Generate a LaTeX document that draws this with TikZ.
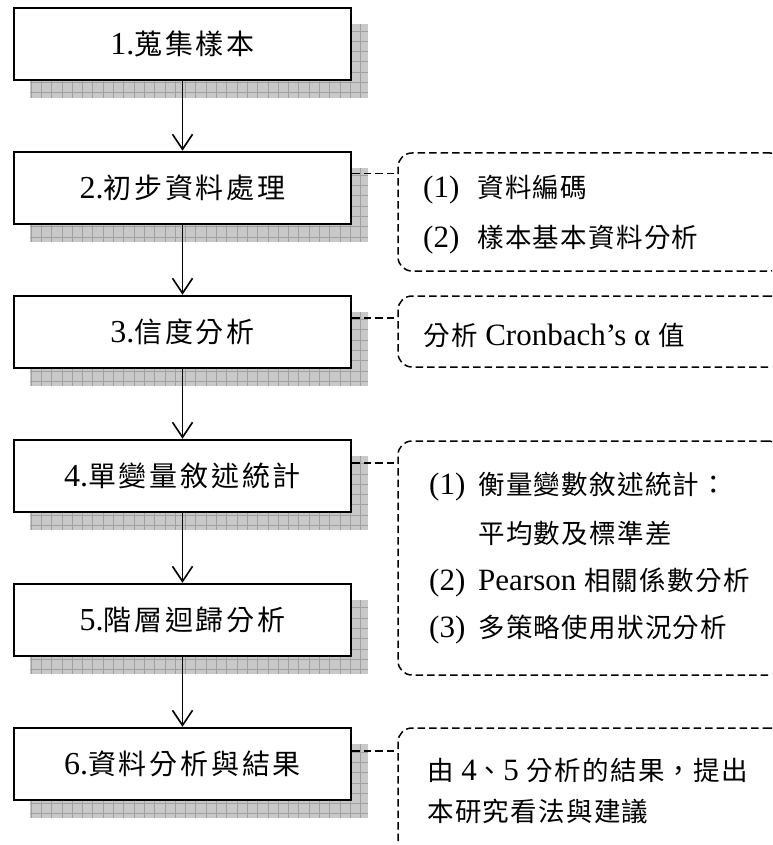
\documentclass[tikz,border=0pt]{standalone}
\usepackage{fontspec}
\setmainfont{Liberation Serif}
\newfontfamily\cjkA[LetterSpace=10]{Noto Sans CJK TC}
\newfontfamily\cjkB[LetterSpace=5]{Noto Sans CJK TC}
\usetikzlibrary{arrows.meta,calc}
\newcommand\LA{\fontsize{32}{36}\selectfont}
\newcommand\CA[1]{{\cjkA\fontsize{28}{36}\selectfont #1}}
\newcommand\LB{\fontsize{31}{34}\selectfont}
\newcommand\CB[1]{{\cjkB\fontsize{26.5}{34}\selectfont #1}}
\definecolor{shfill}{HTML}{C8C8C8}
\definecolor{shline}{HTML}{A0A0A0}
\newcommand\shadowfor[2]{%
  \begin{scope}
    \clip (#1,#2) rectangle ++(338,74);
    \fill[shfill] (#1,#2) rectangle ++(338,74);
    \draw[shline,line width=0.6pt,step=10.3pt] (#1,#2) grid ++(338,74);
  \end{scope}}
\begin{document}
\begin{tikzpicture}[x=1pt,y=-1pt,
  stepbox/.style={draw,line width=2.5pt,fill=white,minimum width=337pt,minimum height=72pt,inner sep=0pt},
  dbox/.style={draw,dashed,dash pattern=on 7.5pt off 4pt,line width=1.5pt,rounded corners=14pt,inner sep=0pt},
  conn/.style={dashed,dash pattern=on 7.5pt off 4pt,line width=1.5pt},
  arr/.style={line width=1.6pt,-{Straight Barb[length=15pt,width=20pt]}},
  txt/.style={anchor=west,inner sep=0pt}]
\clip (0,0) rectangle (772,845);
\fill[white] (0,0) rectangle (772,845);
% shadows
\shadowfor{30}{24}
\shadowfor{30}{168}
\shadowfor{30}{312}
\shadowfor{30}{456}
\shadowfor{30}{600}
\shadowfor{30}{744}
% main boxes
\node[stepbox] (b1) at (182.5,44) {\LA 1.\CA{蒐集樣本}};
\node[stepbox] (b2) at (182.5,188) {\LA 2.\CA{初步資料處理}};
\node[stepbox] (b3) at (182.5,332) {\LA 3.\CA{信度分析}};
\node[stepbox] (b4) at (182.5,476) {\LA 4.\CA{單變量敘述統計}};
\node[stepbox] (b5) at (182.5,620) {\LA 5.\CA{階層迴歸分析}};
\node[stepbox] (b6) at (182.5,764) {\LA 6.\CA{資料分析與結果}};
% arrows
\draw[arr] (b1) -- (b2);
\draw[arr] (b2) -- (b3);
\draw[arr] (b3) -- (b4);
\draw[arr] (b4) -- (b5);
\draw[arr] (b5) -- (b6);
% dashed note boxes
\node[dbox,minimum width=386pt,minimum height=118pt] (n2) at (591,212) {};
\node[dbox,minimum width=386pt,minimum height=71pt] (n3) at (591,331.5) {};
\node[dbox,minimum width=384pt,minimum height=234pt] (n4) at (590,558) {};
\node[dbox,minimum width=386pt,minimum height=152pt] (n6) at (591,804) {};
% connectors
\coordinate (c2) at ($(b2.north east)+(0,23)$);
\coordinate (c3) at ($(b3.north east)+(0,23)$);
\coordinate (c4) at ($(b4.north east)+(0,24)$);
\coordinate (c6) at ($(b6.north east)+(0,24)$);
\draw[conn] (c2) -- (c2 -| n2.west);
\draw[conn] (c3) -- (c3 -| n3.west);
\draw[conn] (c4) -- (c4 -| n4.west);
\draw[conn] (c6) -- (c6 -| n6.west);
% note texts
\node[txt] (t2a) at (423,190) {\LB\makebox[54pt][l]{(1)}\CB{資料編碼}};
\node[txt] (t2b) at (423,240) {\LB\makebox[54pt][l]{(2)}\CB{樣本基本資料分析}};
\node[txt] (t3) at (423,335) {\LB\CB{分析} Cronbach’s α \CB{值}};
\node[txt] (t4a) at (429,487) {\LB\makebox[49pt][l]{(1)}\CB{衡量變數敘述統計：}};
\node[txt] (t4b) at (478,533) {\LB\CB{平均數及標準差}};
\node[txt] (t4c) at (429,582) {\LB\makebox[49pt][l]{(2)}Pearson \CB{相關係數分析}};
\node[txt] (t4d) at (429,630) {\LB\makebox[49pt][l]{(3)}\CB{多策略使用狀況分析}};
\node[txt] (t6a) at (427,770) {\LB\CB{由} 4\CB{、}5 \CB{分析的結果，提出}};
\node[txt] (t6b) at (427,811) {\LB\CB{本研究看法與建議}};
\end{tikzpicture}
\end{document}
